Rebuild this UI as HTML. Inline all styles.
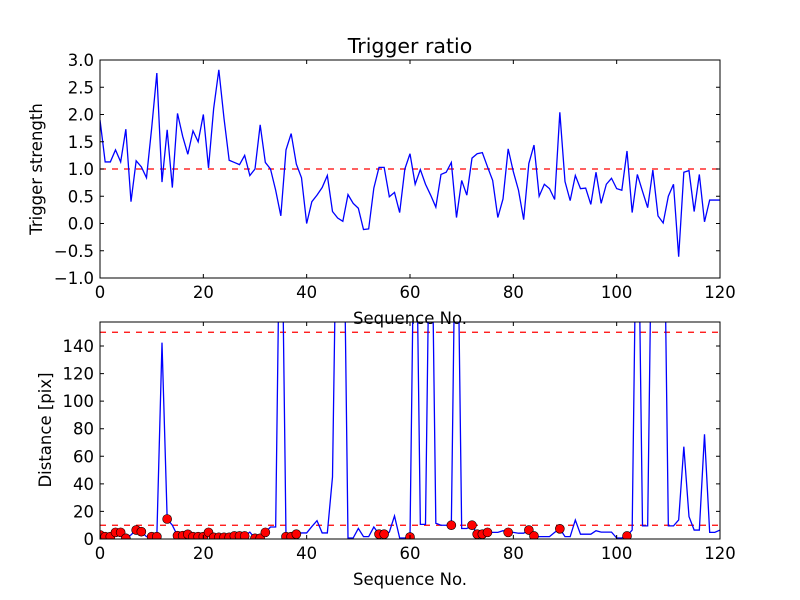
<!DOCTYPE html>
<html><head><meta charset="utf-8"><style>
body{margin:0;background:#fff}
svg{display:block;font-family:"DejaVu Sans","Liberation Sans",sans-serif}
</style></head><body>
<svg id="chart" width="800" height="600" viewBox="0 0 800 600">
<rect width="800" height="600" fill="#fff"/>
<defs>
<clipPath id="c1"><rect x="100" y="60" width="620" height="218"/></clipPath>
<clipPath id="c2"><rect x="100" y="322" width="620" height="217"/></clipPath>
</defs>
<g id="top"></g>
<g id="bot"></g>
</svg>
<script>
const ratioValues=[1.9,1.13,1.13,1.35,1.13,1.73,0.4,1.15,1.04,0.84,1.75,2.76,0.76,1.72,0.66,2.02,1.6,1.27,1.7,1.5,2.0,1.02,2.11,2.82,1.93,1.16,1.12,1.08,1.25,0.88,1.0,1.81,1.12,1.0,0.61,0.14,1.35,1.65,1.09,0.84,0.0,0.4,0.52,0.66,0.88,0.22,0.1,0.04,0.53,0.37,0.28,-0.11,-0.1,0.65,1.03,1.03,0.49,0.57,0.2,1.0,1.28,0.72,0.99,0.72,0.52,0.3,0.9,0.94,1.12,0.11,0.79,0.52,1.2,1.28,1.3,1.04,0.79,0.11,0.45,1.37,0.95,0.61,0.07,1.1,1.44,0.5,0.72,0.64,0.44,2.04,0.77,0.42,0.88,0.64,0.65,0.35,0.94,0.37,0.72,0.83,0.64,0.61,1.33,0.2,0.9,0.59,0.29,0.98,0.14,0.01,0.5,0.72,-0.61,0.94,0.97,0.22,0.9,0.03,0.43,0.43,0.43];
const distValues=[3,1.7,1.7,4.8,4.8,0.5,3,6.5,5.3,1.7,1.7,1.7,142.4,14.5,10,2.4,2.4,3.4,1.7,1.7,1.7,4.8,1.2,1.2,1.2,1.2,2.2,2.2,2.2,5,0.5,0.5,4.8,8.7,8.7,300,1.7,1.7,3.5,4.4,4.4,9,13.3,4.4,4.4,45,300,300,0.7,0.7,7.7,1.7,1.7,8.7,3.5,3.5,5,16.7,0.7,0.7,1.4,300,10.6,10.6,300,11.4,10,10,10,300,7.6,7.6,10,3.5,3.5,4.8,4.8,4.8,6,4.8,4.8,4.2,4.2,6.5,2.2,1.7,1.7,1.7,4.8,7.4,1.7,1.7,13.8,3.5,3.5,3.5,6,5,5,5,0.7,0.7,2.2,6.5,300,9.5,9.5,300,300,300,9.5,9.5,13.8,67,16.2,6.5,6.5,76,4.8,4.8,6.5];
const markerIdx=[0,1,2,3,4,5,7,8,10,11,13,15,16,17,18,19,20,21,22,23,24,25,26,27,28,30,31,32,36,37,38,54,55,60,68,72,73,74,75,79,83,84,89,102];
const xTicks=[0,20,40,60,80,100,120];
const topYTicks=[-1.0,-0.5,0.0,0.5,1.0,1.5,2.0,2.5,3.0];
const botYTicks=[0,20,40,60,80,100,120,140];
const ratioThreshold=[1.0];
const distThresholds=[10,150];

const NS="http://www.w3.org/2000/svg";
function mk(p,t,a){const e=document.createElementNS(NS,t);for(const k in a)e.setAttribute(k,a[k]);p.appendChild(e);return e;}
const X=v=>100+v*620/120;
const Y1=v=>60+(3-v)*218/4;
const Y2=v=>539-v*(539-346)/140;
const topG=document.getElementById('top'),botG=document.getElementById('bot');
const FS=16.5;

function axes(g,y0,y1,yt,Yf,fmt,ylabel,yl,xlab){
  xTicks.forEach(t=>{
    const l=mk(g,'path',{d:`M${X(t)} ${y1}v-4M${X(t)} ${y0}v4`,stroke:'#000','stroke-width':1});
    
    
    const tx=mk(g,'text',{x:X(t),y:y1+20,'font-size':FS,'text-anchor':'middle'});tx.textContent=t;
    
    
  });
  yt.forEach(t=>{
    const y=Yf(t);
    const l=mk(g,'path',{d:`M100 ${y}h4M720 ${y}h-4`,stroke:'#000','stroke-width':1});
    
    
    const tx=mk(g,'text',{x:94,y:y+6,'font-size':FS,'text-anchor':'end'});tx.textContent=fmt(t);
    
    
  });
  const xl=mk(g,'text',{x:410,y:xlab,'font-size':FS,'text-anchor':'middle'});xl.textContent='Sequence No.';
  
  
  const ylb=mk(g,'text',{x:0,y:0,'font-size':FS,'text-anchor':'middle',transform:`translate(${yl[0]},${yl[1]}) rotate(-90)`});ylb.textContent=ylabel;
  
  
}
const fmt1=t=>(t<0?'\u2212':'')+Math.abs(t).toFixed(1);

// top panel
ratioThreshold.forEach(v=>{const d=mk(topG,'line',{x1:100,x2:720,y1:Y1(v),y2:Y1(v),stroke:'#f00','stroke-width':1.2,'stroke-dasharray':'6,6'});

});
const p1=mk(topG,'polyline',{points:ratioValues.map((v,i)=>X(i)+','+Y1(v)).join(' '),fill:'none',stroke:'#00f','stroke-width':1.3,'clip-path':'url(#c1)'});


const f1=mk(topG,'rect',{x:100,y:60,width:620,height:218,fill:'none',stroke:'#000','stroke-width':1});


axes(topG,60,278,topYTicks,Y1,fmt1,'Trigger strength',[42,169],324);
const ti=mk(topG,'text',{x:410,y:53,'font-size':20.5,'text-anchor':'middle'});ti.textContent='Trigger ratio';



// bottom panel
distThresholds.forEach(v=>{const d=mk(botG,'line',{x1:100,x2:720,y1:Y2(v),y2:Y2(v),stroke:'#f00','stroke-width':1.2,'stroke-dasharray':'6,6'});

});
const p2=mk(botG,'polyline',{points:distValues.map((v,i)=>X(i)+','+Y2(v)).join(' '),fill:'none',stroke:'#00f','stroke-width':1.3,'clip-path':'url(#c2)'});


const mg=mk(botG,'g',{'clip-path':'url(#c2)'});
markerIdx.forEach(i=>{const c=mk(mg,'circle',{cx:X(i),cy:Y2(distValues[i]),r:4.5,fill:'#f00',stroke:'#000','stroke-width':0.6});

});
const f2=mk(botG,'rect',{x:100,y:322,width:620,height:217,fill:'none',stroke:'#000','stroke-width':1});


axes(botG,322,539,botYTicks,Y2,t=>String(t),'Distance [pix]',[51,430],585);
</script>
</body></html>
